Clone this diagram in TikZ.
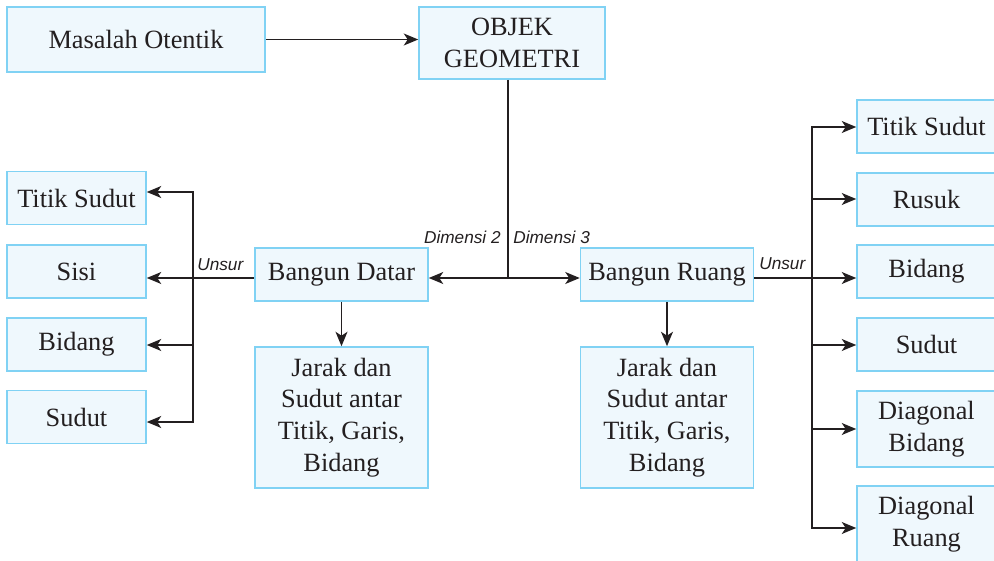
\documentclass[tikz,border=0pt]{standalone}
\usepackage{fontspec}
\setmainfont{Liberation Serif}
\setsansfont{Liberation Sans}
\usepackage{xcolor}
\usepackage{tikz}
\usetikzlibrary{positioning,arrows.meta}
\definecolor{boxfill}{RGB}{239,248,253}
\definecolor{boxline}{RGB}{128,210,244}
\definecolor{ink}{RGB}{35,31,32}

\begin{document}
\begin{tikzpicture}[x=0.02cm,y=-0.02cm,
  font=\fontsize{15}{18}\selectfont,
  box/.style={draw=boxline,fill=boxfill,line width=0.9pt,align=center,inner sep=0pt,text=ink},
  small/.style={box,minimum width=2.78cm,minimum height=1.06cm},
  lbl/.style={font=\sffamily\itshape\fontsize{9.8}{11}\selectfont,text=ink,inner sep=0pt},
  arr/.style={ink,line width=0.85pt,-{Stealth[length=2.9mm,width=2.4mm,inset=0.8mm]}},
  line/.style={ink,line width=0.85pt}]
\clip (0,0) rectangle (994,561);

% top row
\node[box,minimum width=5.16cm,minimum height=1.3cm] (masalah) at (136,39.5) {Masalah Otentik};
\node[box,minimum width=3.72cm,minimum height=1.44cm] (objek) at (512,43) {OBJEK\\GEOMETRI};

% middle
\node[box,minimum width=3.46cm,minimum height=1.06cm] (datar) at (341.5,274.5) {Bangun Datar};
\node[box,minimum width=3.46cm,minimum height=1.06cm] (ruang) at (667,274.5) {Bangun Ruang};
\node[box,minimum width=3.46cm,minimum height=2.82cm] (jarakd) at (341.5,417.5) {Jarak dan\\Sudut antar\\Titik, Garis,\\Bidang};
\node[box,minimum width=3.46cm,minimum height=2.82cm] (jarakr) at (667,417.5) {Jarak dan\\Sudut antar\\Titik, Garis,\\Bidang};

% unsur bangun datar
\node[small] (ltitik) at (76.5,198) {Titik Sudut};
\node[small] (lsisi) at (76.5,271.5) {Sisi};
\node[small] (lbidang) at (76.5,344.5) {Bidang};
\node[small] (lsudut) at (76.5,417) {Sudut};

% unsur bangun ruang
\node[small] (rtitik) at (926.5,126.5) {Titik Sudut};
\node[small] (rrusuk) at (926.5,199.5) {Rusuk};
\node[small] (rbidang) at (926.5,271.5) {Bidang};
\node[small] (rsudut) at (926.5,344.5) {Sudut};
\node[small,minimum height=1.52cm] (rdiagb) at (926.5,429) {Diagonal\\Bidang};
\node[small,minimum height=1.52cm] (rdiagr) at (926.5,524) {Diagonal\\Ruang};

\coordinate (hub) at (508,278);
\coordinate (lbus) at (193,278);
\coordinate (rbus) at (812,278);

\draw[arr] (masalah) -- (masalah -| objek.west);
\draw[line] (objek.south -| hub) -- (hub);
\draw[arr] (hub) -- (hub -| datar.east);
\draw[arr] (hub) -- (hub -| ruang.west);
\node[lbl,anchor=base east] (dim2) at (501,243) {Dimensi 2};
\node[lbl,anchor=base west] (dim3) at (513,243) {Dimensi 3};

\draw[arr] (hub -| datar.west) -- (hub -| lsisi.east);
\foreach \n/\y in {ltitik/192,lbidang/345,lsudut/422}
  \draw[arr] (lbus) |- (\n.east |- 0,\y);
\node[lbl,anchor=base west] (unsurl) at (197,270) {Unsur};

\draw[arr] (hub -| ruang.east) -- (hub -| rbidang.west);
\foreach \n/\y in {rtitik/127,rrusuk/199,rsudut/345,rdiagb/429,rdiagr/528}
  \draw[arr] (rbus) |- (\n.west |- 0,\y);
\node[lbl,anchor=base west] (unsurr) at (759,269) {Unsur};

\draw[arr] (datar) -- (jarakd);
\draw[arr] (ruang) -- (jarakr);
\end{tikzpicture}
\end{document}
